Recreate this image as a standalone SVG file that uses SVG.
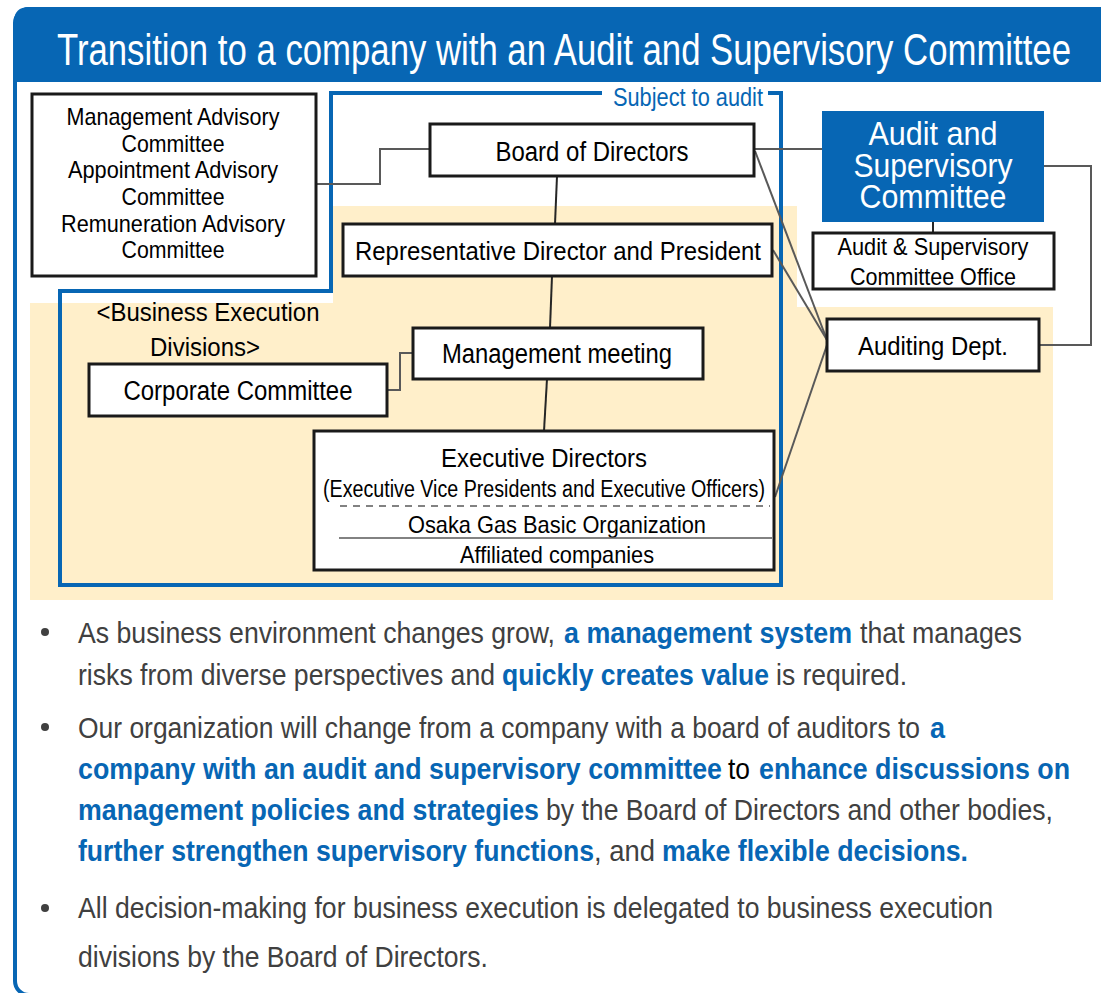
<svg xmlns="http://www.w3.org/2000/svg" width="1101" height="993" viewBox="0 0 1101 993">
<style>
text{font-family:"Liberation Sans Narrow","Liberation Sans",Arial,sans-serif;}
.box{fill:#fff;stroke:#1a1a1a;stroke-width:3;}
.lbl{fill:#000;text-anchor:middle;}
.con{fill:none;stroke:#595959;stroke-width:2;}
.dk{fill:none;stroke:#262626;stroke-width:2;}
.bt{fill:#404040;font-size:30px;}
.hb{fill:#0766B4;font-weight:bold;font-size:30px;}
</style>
<rect x="15" y="9" width="1110" height="986" rx="14" fill="#fff" stroke="#0766B4" stroke-width="4"/>
<path d="M14,82 V22 Q14,7 29,7 H1101 V82 Z" fill="#0766B4"/>
<text x="564" y="65" fill="#fff" font-size="45" text-anchor="middle" textLength="1014" lengthAdjust="spacingAndGlyphs">Transition to a company with an Audit and Supervisory Committee</text>
<path d="M333,206 H797 V307 H1053 V600 H30 V303 H333 Z" fill="#FFEFCA"/>
<path d="M602,93 H331 V291 H60 V585 H781 V93 H768" fill="none" stroke="#0766B4" stroke-width="4"/>
<text x="613" y="106" fill="#0766B4" font-size="25" textLength="150" lengthAdjust="spacingAndGlyphs">Subject to audit</text>
<text x="208" y="321" class="lbl" font-size="26" textLength="223" lengthAdjust="spacingAndGlyphs">&lt;Business Execution</text>
<text x="205" y="356" class="lbl" font-size="26" textLength="110" lengthAdjust="spacingAndGlyphs">Divisions&gt;</text>
<g id="connectors">
<polyline class="con" points="316,184 380,184 380,149 430,149"/>
<line class="dk" x1="557" y1="176" x2="555" y2="224"/>
<line class="dk" x1="552" y1="276" x2="550" y2="328"/>
<line class="dk" x1="547" y1="379" x2="544" y2="431"/>
<polyline class="con" points="387,390 400,390 400,353 413,353"/>
<line class="con" x1="754" y1="149" x2="822" y2="149"/>
<line class="dk" x1="933" y1="222" x2="933" y2="233"/>
<polyline class="con" points="1044,166 1091,166 1091,345 1039,345"/>
<line class="con" x1="755" y1="151" x2="827" y2="340"/>
<line class="con" x1="773" y1="250" x2="827" y2="340"/>
<line class="con" x1="775" y1="497" x2="827" y2="345"/>
</g>
<g id="advisory">
<rect class="box" x="32" y="94" width="284" height="182"/>
<text class="lbl" x="173" y="125" font-size="24" textLength="213" lengthAdjust="spacingAndGlyphs">Management Advisory</text>
<text class="lbl" x="173" y="152" font-size="24" textLength="103" lengthAdjust="spacingAndGlyphs">Committee</text>
<text class="lbl" x="173" y="178" font-size="24" textLength="210" lengthAdjust="spacingAndGlyphs">Appointment Advisory</text>
<text class="lbl" x="173" y="205" font-size="24" textLength="103" lengthAdjust="spacingAndGlyphs">Committee</text>
<text class="lbl" x="173" y="232" font-size="24" textLength="224" lengthAdjust="spacingAndGlyphs">Remuneration Advisory</text>
<text class="lbl" x="173" y="258" font-size="24" textLength="103" lengthAdjust="spacingAndGlyphs">Committee</text>
</g>
<g id="board">
<rect class="box" x="430" y="124" width="324" height="52"/>
<text class="lbl" x="592" y="161" font-size="27" textLength="193" lengthAdjust="spacingAndGlyphs">Board of Directors</text>
</g>
<g id="president">
<rect class="box" x="343" y="224" width="429" height="52"/>
<text class="lbl" x="558" y="260" font-size="26" textLength="406" lengthAdjust="spacingAndGlyphs">Representative Director and President</text>
</g>
<g id="mgmt">
<rect class="box" x="413" y="328" width="290" height="51"/>
<text class="lbl" x="557" y="363" font-size="27" textLength="230" lengthAdjust="spacingAndGlyphs">Management meeting</text>
</g>
<g id="corporate">
<rect class="box" x="89" y="364" width="298" height="52"/>
<text class="lbl" x="238" y="400" font-size="27" textLength="229" lengthAdjust="spacingAndGlyphs">Corporate Committee</text>
</g>
<g id="exec">
<rect class="box" x="314" y="431" width="460" height="139"/>
<text class="lbl" x="544" y="467" font-size="26" textLength="206" lengthAdjust="spacingAndGlyphs">Executive Directors</text>
<text class="lbl" x="544" y="497" font-size="23" textLength="442" lengthAdjust="spacingAndGlyphs">(Executive Vice Presidents and Executive Officers)</text>
<line x1="340" y1="506" x2="770" y2="506" stroke="#595959" stroke-width="1.5" stroke-dasharray="7,6"/>
<text class="lbl" x="557" y="533" font-size="24" textLength="298" lengthAdjust="spacingAndGlyphs">Osaka Gas Basic Organization</text>
<line x1="339" y1="538" x2="772" y2="538" stroke="#595959" stroke-width="1.5"/>
<text class="lbl" x="557" y="563" font-size="24" textLength="194" lengthAdjust="spacingAndGlyphs">Affiliated companies</text>
</g>
<g id="audit-committee">
<rect x="822" y="111" width="222" height="111" fill="#0766B4"/>
<text x="933" y="145" fill="#fff" text-anchor="middle" font-size="33" textLength="129" lengthAdjust="spacingAndGlyphs">Audit and</text>
<text x="933" y="177" fill="#fff" text-anchor="middle" font-size="33" textLength="159" lengthAdjust="spacingAndGlyphs">Supervisory</text>
<text x="933" y="208" fill="#fff" text-anchor="middle" font-size="33" textLength="147" lengthAdjust="spacingAndGlyphs">Committee</text>
</g>
<g id="office">
<rect class="box" x="813" y="233" width="241" height="56"/>
<text class="lbl" x="933" y="255" font-size="24" textLength="191" lengthAdjust="spacingAndGlyphs">Audit &amp; Supervisory</text>
<text class="lbl" x="933" y="285" font-size="24" textLength="166" lengthAdjust="spacingAndGlyphs">Committee Office</text>
</g>
<g id="auditing">
<rect class="box" x="827" y="319" width="212" height="52"/>
<text class="lbl" x="933" y="355" font-size="26" textLength="150" lengthAdjust="spacingAndGlyphs">Auditing Dept.</text>
</g>
<g id="bullets">
<circle cx="45" cy="632" r="4" fill="#404040"/>
<circle cx="45" cy="727" r="4" fill="#404040"/>
<circle cx="45" cy="908" r="4" fill="#404040"/>
<text class="bt" x="78" y="643" textLength="477" lengthAdjust="spacingAndGlyphs">As business environment changes grow,</text>
<text class="hb" x="564" y="643" textLength="288" lengthAdjust="spacingAndGlyphs">a management system</text>
<text class="bt" x="860" y="643" textLength="162" lengthAdjust="spacingAndGlyphs">that manages</text>
<text class="bt" x="78" y="685" textLength="417" lengthAdjust="spacingAndGlyphs">risks from diverse perspectives and</text>
<text class="hb" x="502" y="685" textLength="267" lengthAdjust="spacingAndGlyphs">quickly creates value</text>
<text class="bt" x="776" y="685" textLength="131" lengthAdjust="spacingAndGlyphs">is required.</text>
<text class="bt" x="78" y="738" textLength="842" lengthAdjust="spacingAndGlyphs">Our organization will change from a company with a board of auditors to</text>
<text class="hb" x="930" y="738" textLength="15" lengthAdjust="spacingAndGlyphs">a</text>
<text class="hb" x="78" y="779" textLength="644" lengthAdjust="spacingAndGlyphs">company with an audit and supervisory committee</text>
<text class="bt" x="728" y="779" style="fill:#000" textLength="22" lengthAdjust="spacingAndGlyphs">to</text>
<text class="hb" x="759" y="779" textLength="311" lengthAdjust="spacingAndGlyphs">enhance discussions on</text>
<text class="hb" x="78" y="820" textLength="461" lengthAdjust="spacingAndGlyphs">management policies and strategies</text>
<text class="bt" x="546" y="820" textLength="507" lengthAdjust="spacingAndGlyphs">by the Board of Directors and other bodies,</text>
<text class="hb" x="78" y="861" textLength="516" lengthAdjust="spacingAndGlyphs">further strengthen supervisory functions</text>
<text class="bt" x="594" y="861" textLength="61" lengthAdjust="spacingAndGlyphs">, and</text>
<text class="hb" x="662" y="861" textLength="306" lengthAdjust="spacingAndGlyphs">make flexible decisions.</text>
<text class="bt" x="78" y="918" textLength="915" lengthAdjust="spacingAndGlyphs">All decision-making for business execution is delegated to business execution</text>
<text class="bt" x="78" y="967" textLength="410" lengthAdjust="spacingAndGlyphs">divisions by the Board of Directors.</text>
</g>
</svg>
